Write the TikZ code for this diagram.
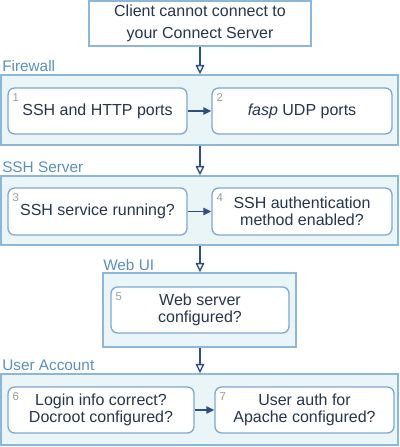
\documentclass[tikz,border=0pt]{standalone}
\usepackage{fontspec}
\setmainfont{Liberation Sans}
\usetikzlibrary{arrows.meta}
\definecolor{outerbd}{HTML}{8DB7D9}
\definecolor{outerfill}{HTML}{EAF5F7}
\definecolor{innerbd}{HTML}{7FA8CD}
\definecolor{arrowc}{HTML}{2D4F80}
\definecolor{labc}{HTML}{5A8FC0}
\definecolor{txtc}{HTML}{26364C}
\definecolor{numc}{HTML}{9A9A9A}
\tikzset{
  grp/.style={draw=outerbd, fill=outerfill, line width=1.1pt, inner sep=0pt},
  topbox/.style={draw=outerbd, fill=white, line width=1.1pt, inner sep=0pt, align=center,
    text=txtc, font=\fontsize{12}{16}\selectfont},
  stepbox/.style={draw=innerbd, fill=white, line width=1pt, rounded corners=5pt, inner sep=0pt,
    align=center, text=txtc, font=\fontsize{12}{13}\selectfont, minimum height=34.5pt},
  grplabel/.style={anchor=base west, inner sep=0pt, text=labc, font=\fontsize{11.5}{13}\selectfont},
  numlabel/.style={anchor=north west, inner sep=0pt, text=numc, font=\fontsize{8.5}{9}\selectfont},
  flowv/.style={draw=arrowc, line width=1.2pt, -{Triangle[length=7pt,width=6.5pt,fill=white,line width=1pt]}},
  flowh/.style={draw=arrowc, line width=1.2pt, -{Triangle[length=6pt,width=5.5pt]}}
}
\begin{document}
\begin{tikzpicture}[x=0.75pt,y=-0.75pt]
\useasboundingbox (0,0) rectangle (400,447);
% top
\node[topbox, minimum width=166.5pt, minimum height=33.75pt] (top) at (200,23.5)
  {Client cannot connect to\\your Connect Server};
% Firewall
\node[grp, minimum width=297.75pt, minimum height=52.5pt] (fw) at (199.5,110) {};
\node[grplabel] (fwl) at (2,71) {Firewall};
\node[stepbox, minimum width=134.25pt] (b1) at (97.5,111) {SSH and HTTP ports};
\node[stepbox, minimum width=135pt] (b2) at (302,111) {\textit{fasp} UDP ports};
% SSH
\node[grp, minimum width=297.75pt, minimum height=51.75pt] (ssh) at (199.5,210.5) {};
\node[grplabel] (sshl) at (2,172) {SSH Server};
\node[stepbox, minimum width=134.25pt, minimum height=35.25pt] (b3) at (97.5,211.5) {SSH service running?};
\node[stepbox, minimum width=135pt, minimum height=35.25pt] (b4) at (302,211.5) {SSH authentication\\method enabled?};
% Web UI
\node[grp, minimum width=144.75pt, minimum height=55.5pt] (web) at (199.5,310) {};
\node[grplabel] (webl) at (103,270) {Web UI};
\node[stepbox, minimum width=133.5pt] (b5) at (200,310) {Web server\\configured?};
% User Account
\node[grp, minimum width=297.75pt, minimum height=53.25pt] (usr) at (199.5,409.5) {};
\node[grplabel] (usrl) at (2,370) {User Account};
\node[stepbox, minimum width=139.5pt] (b6) at (101,410) {Login info correct?\\Docroot configured?};
\node[stepbox, minimum width=134.25pt] (b7) at (304.5,410) {User auth for\\Apache configured?};
% numbers
\node[numlabel] (n1) at ([xshift=3.75pt,yshift=-4.5pt]b1.north west) {1};
\node[numlabel] (n2) at ([xshift=3.75pt,yshift=-4.5pt]b2.north west) {2};
\node[numlabel] (n3) at ([xshift=3.75pt,yshift=-4.5pt]b3.north west) {3};
\node[numlabel] (n4) at ([xshift=3.75pt,yshift=-4.5pt]b4.north west) {4};
\node[numlabel] (n5) at ([xshift=3.75pt,yshift=-4.5pt]b5.north west) {5};
\node[numlabel] (n6) at ([xshift=3.75pt,yshift=-4.5pt]b6.north west) {6};
\node[numlabel] (n7) at ([xshift=3.75pt,yshift=-4.5pt]b7.north west) {7};
% arrows
\draw[flowv] (top.south) -- (top.south |- fw.north);
\draw[flowv] (top.south |- fw.south) -- (top.south |- ssh.north);
\draw[flowv] (top.south |- ssh.south) -- (top.south |- web.north);
\draw[flowv] (top.south |- web.south) -- (top.south |- usr.north);
\draw[flowh] (b1.east) -- (b2.west);
\draw[flowh] (b3.east) -- (b4.west);
\draw[flowh] (b6.east) -- (b7.west);
\end{tikzpicture}
\end{document}
